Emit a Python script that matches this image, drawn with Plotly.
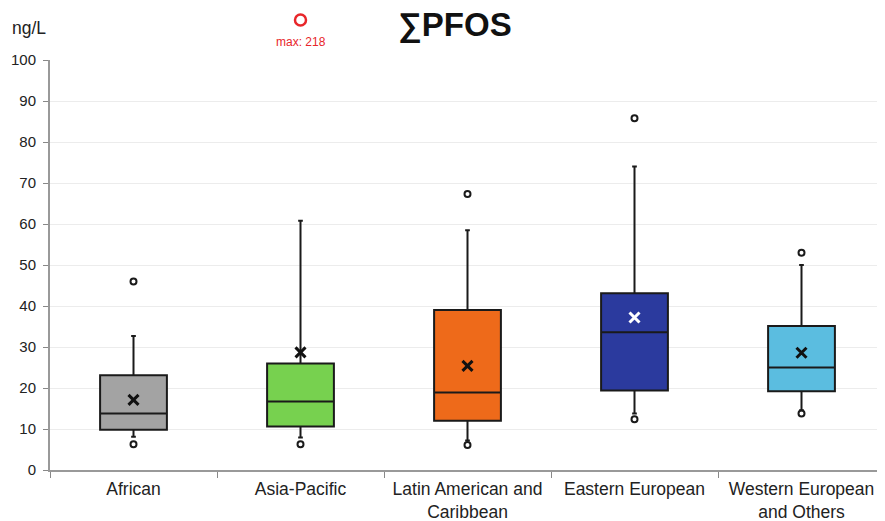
import plotly.graph_objects as go

categories = ["African", "Asia-Pacific", "Latin American and<br>Caribbean",
              "Eastern European", "Western European<br>and Others"]
q1 = [9.8, 10.6, 12.0, 19.4, 19.2]
median = [13.8, 16.7, 18.9, 33.6, 25.0]
q3 = [23.1, 26.0, 39.0, 43.1, 35.1]
lower_whisker = [8.1, 7.9, 7.2, 13.8, 14.6]
upper_whisker = [32.7, 60.8, 58.5, 74.0, 50.0]
means = [17.1, 28.7, 25.4, 37.2, 28.6]
outliers_high = [46.0, None, 67.3, 85.8, 53.0]
outliers_low = [6.3, 6.3, 6.1, 12.4, 13.8]
max_value_label = "max: 218"
max_category_index = 1
colors = ["#a3a3a3", "#77d14f", "#ee6a1a", "#2b3a9e", "#5bbde0"]
mean_colors = ["#111111", "#111111", "#111111", "#ffffff", "#111111"]

# page has an 8px body margin; figure sized/offset to compensate
W, H = 877, 513
PLOT_W, PLOT_H = 835, 410
CAT_PX = PLOT_W / len(categories)

fig = go.Figure()
for i, c in enumerate(categories):
    fig.add_trace(go.Box(
        x=[c], q1=[q1[i]], median=[median[i]], q3=[q3[i]],
        lowerfence=[lower_whisker[i]], upperfence=[upper_whisker[i]],
        fillcolor=colors[i], line=dict(color="#1a1a1a", width=2), width=0.4,
        whiskerwidth=0.07, boxpoints=False, showlegend=False, hoverinfo="skip"))

ox, oy = [], []
for i, c in enumerate(categories):
    for v in (outliers_high[i], outliers_low[i]):
        if v is not None:
            ox.append(c)
            oy.append(v)
fig.add_trace(go.Scatter(x=ox, y=oy, mode="markers", showlegend=False,
                         marker=dict(symbol="circle-open", size=6, color="#1a1a1a",
                                     line=dict(width=2, color="#1a1a1a"))))
fig.add_trace(go.Scatter(x=categories, y=means, mode="markers", showlegend=False,
                         marker=dict(symbol="x-thin", size=10, color=mean_colors,
                                     line=dict(width=3, color=mean_colors))))

# off-scale maximum marker above the Asia-Pacific box
r = 5.5
fig.add_shape(type="circle", xref="x", yref="paper",
              x0=max_category_index - r / CAT_PX, x1=max_category_index + r / CAT_PX,
              y0=(410 + 40 - r) / PLOT_H, y1=(410 + 40 + r) / PLOT_H,
              line=dict(color="#e8262a", width=2.5))
fig.add_annotation(x=max_category_index, xref="x", yref="paper", y=(410 + 18) / PLOT_H,
                   text=max_value_label, showarrow=False,
                   font=dict(size=12, color="#e8262a"), yanchor="middle")

fig.add_annotation(xref="paper", yref="paper", x=-40 / PLOT_W, y=1 + 32 / PLOT_H,
                   text="ng/L", showarrow=False, xanchor="left", yanchor="middle",
                   font=dict(size=17.5, color="#222"))

fig.update_layout(
    width=W, height=H,
    margin=dict(l=42, r=0, t=52, b=51),
    paper_bgcolor="white", plot_bgcolor="white",
    font=dict(family="Liberation Sans, Arial, sans-serif", color="#222"),
    title=dict(text="<b>∑PFOS</b>", x=447 / W, xanchor="center", y=1 - 16 / H,
               yanchor="middle", font=dict(size=33, color="#111")),
    boxmode="overlay",
    xaxis=dict(type="category", range=[-0.5, len(categories) - 0.5],
               tickson="boundaries", ticks="outside", ticklen=6,
               tickcolor="#888", showline=True, linecolor="#999", linewidth=2,
               showgrid=False, ticklabelstandoff=2, automargin=False,
               tickfont=dict(size=17.5, color="#222")),
    yaxis=dict(range=[0, 100], dtick=10, ticks="outside", ticklen=5, tickcolor="#888",
               showline=True, linecolor="#999", linewidth=2, ticklabelstandoff=4,
               showgrid=True, gridcolor="#ececec", gridwidth=1, zeroline=False,
               automargin=False, tickfont=dict(size=15, color="#222")),
)

fig.write_html("out.html")
